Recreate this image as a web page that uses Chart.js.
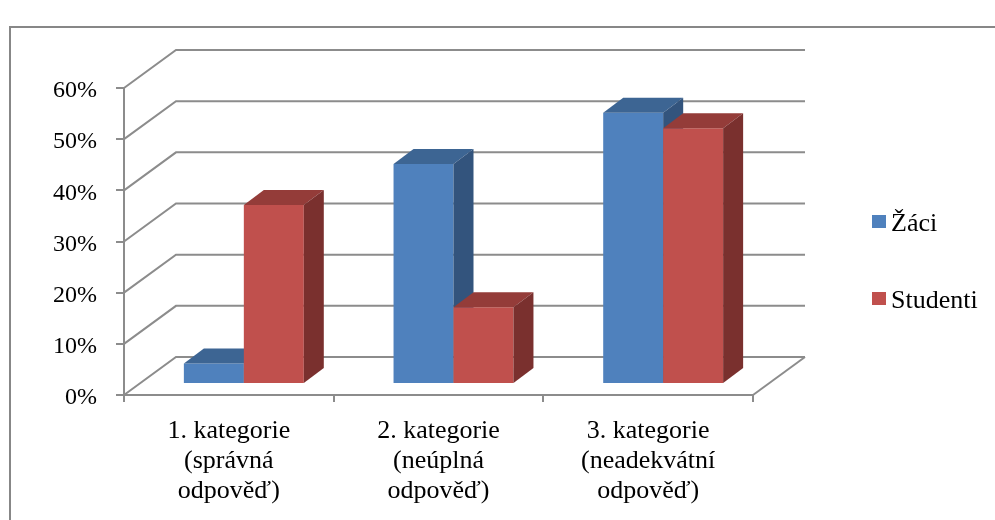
<!DOCTYPE html>
<html lang="cs">
<head>
<meta charset="utf-8">
<title>Kategorie odpovědí</title>
<script src="https://cdn.jsdelivr.net/npm/chart.js@4.4.1/dist/chart.umd.min.js"></script>
<style>
  html, body { margin: 0; padding: 0; background: #fff; }
  #wrap { position: relative; width: 995px; height: 520px; }
</style>
</head>
<body>
<div id="wrap"><canvas id="chart"></canvas></div>
<script>
const categories = [
  ['1. kategorie', '(správná', 'odpověď)'],
  ['2. kategorie', '(neúplná', 'odpověď)'],
  ['3. kategorie', '(neadekvátní', 'odpověď)']
];
const seriesNames = ['Žáci', 'Studenti'];
const zaciValues = [4, 43, 53];
const studentiValues = [35, 15, 50];
const yMax = 60;
const yStep = 10;

const FONT = "'Liberation Serif', 'Times New Roman', serif";
const GRID = '#8c8c8c';
// front / top / side shade of each series' boxes
const SHADES = [
  { front: '#4f81bd', top: '#3d6593', side: '#33547d' },
  { front: '#c0504d', top: '#943c39', side: '#7a302e' }
];
// back wall depth, box position inside the floor, box depth
const WALL_DX = 52, WALL_DY = -38;
const BAR_SHIFT_X = 15, BAR_SHIFT_Y = -11;
const BAR_DX = 20, BAR_DY = -15;

function poly(ctx, pts, fill) {
  ctx.beginPath();
  ctx.moveTo(pts[0][0], pts[0][1]);
  for (let i = 1; i < pts.length; i++) ctx.lineTo(pts[i][0], pts[i][1]);
  ctx.closePath();
  ctx.fillStyle = fill;
  ctx.fill();
}

const pseudo3d = {
  id: 'pseudo3d',
  beforeDraw(chart) {
    const ctx = chart.ctx;
    // outer frame, only its top and left edges fall on the canvas
    ctx.save();
    ctx.strokeStyle = '#878787';
    ctx.lineWidth = 2;
    ctx.beginPath();
    ctx.moveTo(10, 530);
    ctx.lineTo(10, 27);
    ctx.lineTo(1000, 27);
    ctx.stroke();
    ctx.restore();
  },
  beforeDatasetsDraw(chart) {
    const { ctx, chartArea: a, scales: { y } } = chart;
    ctx.save();
    ctx.strokeStyle = GRID;
    ctx.lineWidth = 2;
    // side wall diagonals + back wall gridlines
    y.ticks.forEach(t => {
      const py = y.getPixelForValue(t.value);
      ctx.beginPath();
      ctx.moveTo(a.left, py);
      ctx.lineTo(a.left + WALL_DX, py + WALL_DY);
      ctx.lineTo(a.right + WALL_DX, py + WALL_DY);
      ctx.stroke();
    });
    // right edge of the floor
    const py0 = y.getPixelForValue(0);
    ctx.beginPath();
    ctx.moveTo(a.right, py0);
    ctx.lineTo(a.right + WALL_DX, py0 + WALL_DY);
    ctx.stroke();
    ctx.restore();
  },
  afterDatasetsDraw(chart) {
    const ctx = chart.ctx;
    const metas = chart.data.datasets.map((d, i) => chart.getDatasetMeta(i));
    ctx.save();
    for (let c = 0; c < chart.data.labels.length; c++) {
      metas.forEach((meta, s) => {
        const p = meta.data[c].getProps(['x', 'y', 'base', 'width'], true);
        const l = p.x - p.width / 2 + BAR_SHIFT_X;
        const r = p.x + p.width / 2 + BAR_SHIFT_X;
        const t = p.y + BAR_SHIFT_Y;
        const b = p.base + BAR_SHIFT_Y;
        const sh = SHADES[s];
        poly(ctx, [[l, t], [r, t], [r, b], [l, b]], sh.front);
        poly(ctx, [[l, t], [l + BAR_DX, t + BAR_DY], [r + BAR_DX, t + BAR_DY], [r, t]], sh.top);
        poly(ctx, [[r, t], [r + BAR_DX, t + BAR_DY], [r + BAR_DX, b + BAR_DY], [r, b]], sh.side);
      });
    }
    ctx.restore();
  },
  afterDraw(chart) {
    // legend on the right
    const ctx = chart.ctx;
    ctx.save();
    ctx.font = '26px ' + FONT;
    ctx.textBaseline = 'alphabetic';
    ctx.textAlign = 'left';
    chart.data.datasets.forEach((ds, i) => {
      const top = 215 + i * 77;
      ctx.fillStyle = SHADES[i].front;
      ctx.fillRect(872, top, 14, 13);
      ctx.fillStyle = '#000';
      ctx.fillText(ds.label, 891, top + 16);
    });
    ctx.restore();
  }
};

new Chart(document.getElementById('chart'), {
  type: 'bar',
  data: {
    labels: categories,
    datasets: [
      { label: seriesNames[0], data: zaciValues, backgroundColor: 'rgba(0,0,0,0)', borderWidth: 0 },
      { label: seriesNames[1], data: studentiValues, backgroundColor: 'rgba(0,0,0,0)', borderWidth: 0 }
    ]
  },
  options: {
    responsive: true,
    maintainAspectRatio: false,
    animation: false,
    layout: { padding: { top: 88, right: 242, left: 0, bottom: 0 } },
    datasets: { bar: { categoryPercentage: 0.572, barPercentage: 1 } },
    plugins: { legend: { display: false }, tooltip: { enabled: false } },
    scales: {
      x: {
        offset: true,
        grid: { offset: true, drawOnChartArea: false, tickLength: 7, color: GRID, lineWidth: 2 },
        border: { color: GRID, width: 2 },
        ticks: {
          font: { family: FONT, size: 26, lineHeight: 1.154 },
          color: '#000', padding: 14, maxRotation: 0, autoSkip: false
        },
        afterFit(s) { s.height = 125; }
      },
      y: {
        min: 0,
        max: yMax,
        grid: { drawOnChartArea: false, tickLength: 8, color: GRID, lineWidth: 2 },
        border: { color: GRID, width: 2 },
        ticks: {
          stepSize: yStep,
          callback: v => v + '%',
          font: { family: FONT, size: 24 },
          color: '#000', padding: 19, labelOffset: 3
        },
        afterFit(s) { s.width = 124; }
      }
    }
  },
  plugins: [pseudo3d]
});
</script>
</body>
</html>
